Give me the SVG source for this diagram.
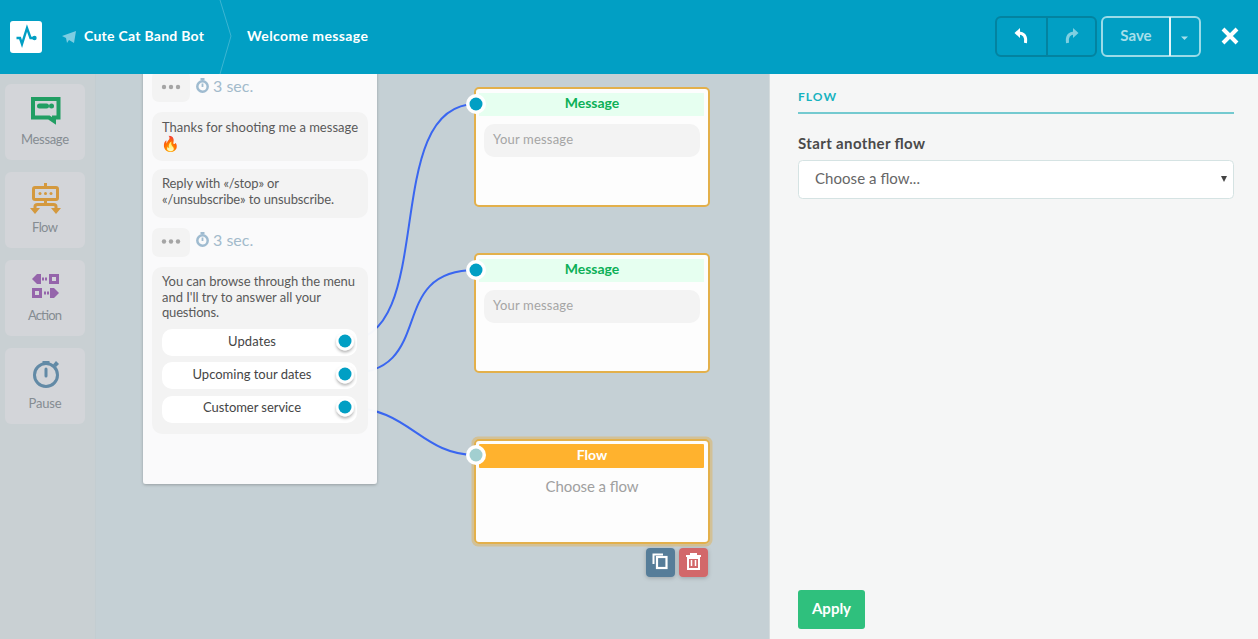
<svg xmlns="http://www.w3.org/2000/svg" width="1258" height="639" viewBox="0 0 1258 639">
<style>
text{font-family:"Lato","Noto Sans","Liberation Sans",sans-serif}
.side{fill:#d3d5d9}
.sl{font-size:13px;fill:#858c92;text-anchor:middle}
.bub{fill:#f3f3f3}
.t{font-size:13px;fill:#5a5a5a}
.btn{fill:#fff}
.bt{font-size:13px;fill:#454545;text-anchor:middle}
.port{fill:#019fc4}
.sec{font-size:16px;fill:#a3bacb}
.dot{fill:#a5a5a5}
.node{fill:#fdfdfd;stroke:#e3b04b;stroke-width:2}
.mh{fill:#e6fff0}
.mt{font-size:14px;font-weight:700;fill:#0db057;text-anchor:middle}
.ym{font-size:13px;fill:#a5a5a5}
.conn{fill:none;stroke:#3a66f0;stroke-width:2}
.hw{font-size:14px;font-weight:700;fill:#fff}
</style>
<defs>
<filter id="sh" x="-50%" y="-50%" width="200%" height="200%"><feDropShadow dx="0" dy="1" stdDeviation="1.500" flood-color="#000" flood-opacity=".25"/></filter>
<filter id="sh3" x="-60%" y="-60%" width="220%" height="220%"><feDropShadow dx="0" dy="2" stdDeviation="1.500" flood-color="#000" flood-opacity=".3"/></filter>
<filter id="sh2" x="-20%" y="-20%" width="140%" height="140%"><feDropShadow dx="0" dy="1" stdDeviation="2" flood-color="#000" flood-opacity=".22"/></filter>
<g id="wa"><circle cx="0" cy="1.500" r="5.200" fill="none" stroke="#9fbbd0" stroke-width="2.500"/><rect x="-2" y="-7" width="4" height="2.200" fill="#9fbbd0"/><path d="M0 -1.500V2" stroke="#9fbbd0" stroke-width="1.800"/></g>
</defs>

<rect width="1258" height="639" fill="#c5d0d5"/>
<g id="sidebar">
<rect x="0" y="74" width="96" height="565" fill="#c9d0d3"/>
<rect x="95" y="74" width="1" height="565" fill="#c3cdd1"/>
<g id="tool-message"><rect class="side" x="5" y="84" width="80" height="76" rx="6"/>
<path d="M33 99H58.500V117.500H54V121L49 117.500H33Z" fill="none" stroke="#219e63" stroke-width="4"/><rect x="37" y="103.500" width="12" height="5" rx="2.500" fill="#219e63"/><circle cx="51.500" cy="106" r="2.500" fill="#219e63"/>
<text class="sl" x="45" y="144" textLength="48">Message</text></g>
<g id="tool-flow"><rect class="side" x="5" y="172" width="80" height="76" rx="6"/>
<g fill="none" stroke="#d4993e" stroke-width="3"><rect x="33.500" y="187.500" width="24" height="12" rx="1.500"/><path d="M45.500 183V187M45.500 200V204M35 208V206.500Q35 204.500 37.500 204.500H53.500Q56 204.500 56 206.500V208"/></g>
<path d="M30 208H40L35 214ZM51 208H61L56 214Z" fill="#d4993e"/><g fill="#d4993e"><circle cx="40" cy="193.500" r="1.500"/><circle cx="45.500" cy="193.500" r="1.500"/><circle cx="51" cy="193.500" r="1.500"/></g>
<text class="sl" x="45" y="232" textLength="26">Flow</text></g>
<g id="tool-action"><rect class="side" x="5" y="260" width="80" height="76" rx="6"/>
<g fill="#9565ab"><path d="M32 279L37 274H41V284H37Z"/><path d="M42 277.500h2v3h-2zM45 277.500h2v3h-2z"/><path fill-rule="evenodd" d="M49 274H59V284H49ZM52 277V281H56V277Z"/><path fill-rule="evenodd" d="M32 288H42V298H32ZM35 291V295H39V291Z"/><path d="M44 291.500h2v3h-2zM47 291.500h2v3h-2z"/><path d="M50 288H54L59 293L54 298H50Z"/></g>
<text class="sl" x="45" y="320" textLength="34">Action</text></g>
<g id="tool-pause"><rect class="side" x="5" y="348" width="80" height="76" rx="6"/>
<circle cx="46" cy="375" r="11.500" fill="none" stroke="#628aa6" stroke-width="3"/><rect x="42.500" y="361" width="7" height="2.500" fill="#628aa6"/><path d="M53 364.500L56 361L59 364L56 367Z" fill="#628aa6"/><path d="M46 369V376" stroke="#628aa6" stroke-width="3" stroke-linecap="round"/>
<text class="sl" x="45" y="408" textLength="33">Pause</text></g>
</g>

<g id="connectors">
<path class="conn" d="M345 341C440 341 378 104 476 104"/>
<path class="conn" d="M345 374C440 374 383 270 476 270"/>
<path class="conn" d="M345 407C410 407 420 455 476 455"/>
</g>

<g id="chat-card">
<rect x="143" y="60" width="234" height="424" rx="3" fill="#fdfdfd" fill-opacity=".96" filter="url(#sh)"/>
<rect class="bub" x="152" y="70" width="38" height="32" rx="7"/>
<g class="dot"><circle cx="164" cy="87" r="2.200"/><circle cx="171" cy="87" r="2.200"/><circle cx="178" cy="87" r="2.200"/></g>
<use href="#wa" x="202.500" y="85"/><text class="sec" x="213" y="91.500">3 sec.</text>
<rect class="bub" x="152" y="112" width="216" height="49" rx="10"/>
<text class="t" x="162" y="132" textLength="196">Thanks for shooting me a message</text>
<text x="161" y="149" font-size="15" style="font-family:'Noto Color Emoji','Noto Sans',sans-serif">🔥</text>
<rect class="bub" x="152" y="169" width="216" height="49" rx="10"/>
<text class="t" x="162" y="188" textLength="117">Reply with «/stop» or</text>
<text class="t" x="162" y="204" textLength="172">«/unsubscribe» to unsubscribe.</text>
<rect class="bub" x="152" y="228" width="38" height="29" rx="7"/>
<g class="dot"><circle cx="164" cy="241.500" r="2.200"/><circle cx="171" cy="241.500" r="2.200"/><circle cx="178" cy="241.500" r="2.200"/></g>
<use href="#wa" x="202.500" y="239"/><text class="sec" x="213" y="245.500">3 sec.</text>
<rect class="bub" x="152" y="267" width="216" height="167" rx="10"/>
<text class="t" x="162" y="286" textLength="193">You can browse through the menu</text>
<text class="t" x="162" y="302" textLength="159">and I'll try to answer all your</text>
<text class="t" x="162" y="317" textLength="57">questions.</text>
<g id="btn-updates"><rect class="btn" x="162" y="329" width="195" height="27" rx="10"/><text class="bt" x="252" y="346" textLength="48">Updates</text><circle cx="345" cy="341.500" r="9" fill="#fff" filter="url(#sh3)"/><circle class="port" cx="345" cy="341" r="6.500"/></g>
<g id="btn-tour"><rect class="btn" x="162" y="362" width="195" height="27" rx="10"/><text class="bt" x="252" y="379" textLength="119">Upcoming tour dates</text><circle cx="345" cy="374.500" r="9" fill="#fff" filter="url(#sh3)"/><circle class="port" cx="345" cy="374" r="6.500"/></g>
<g id="btn-service"><rect class="btn" x="162" y="396" width="195" height="27" rx="10"/><text class="bt" x="252" y="412" textLength="98">Customer service</text><circle cx="345" cy="407.500" r="9" fill="#fff" filter="url(#sh3)"/><circle class="port" cx="345" cy="407" r="6.500"/></g>
</g>

<g id="node-message-1">
<rect class="node" x="475" y="88" width="234" height="118" rx="4"/>
<rect class="mh" x="479" y="93" width="225" height="23"/>
<text class="mt" x="592" y="108">Message</text>
<rect class="bub" x="484" y="124" width="216" height="33" rx="10"/>
<text class="ym" x="493" y="144" textLength="80">Your message</text>
<circle cx="476" cy="104" r="10" fill="#fff"/><circle class="port" cx="476" cy="104" r="6.500"/>
</g>
<g id="node-message-2">
<rect class="node" x="475" y="254" width="234" height="118" rx="4"/>
<rect class="mh" x="479" y="259" width="225" height="23"/>
<text class="mt" x="592" y="274">Message</text>
<rect class="bub" x="484" y="290" width="216" height="33" rx="10"/>
<text class="ym" x="493" y="310" textLength="80">Your message</text>
<circle cx="476" cy="270" r="10" fill="#fff"/><circle class="port" cx="476" cy="270" r="6.500"/>
</g>
<g id="node-flow">
<rect x="473" y="438" width="238" height="107" rx="5" fill="none" stroke="#e3b04b" stroke-opacity=".45" stroke-width="3"/>
<rect class="node" x="475" y="440" width="234" height="103" rx="4"/>
<rect x="479" y="444" width="225" height="24" rx="1" fill="#ffb22e"/>
<text x="592" y="460" font-size="14" font-weight="700" fill="#fff" text-anchor="middle">Flow</text>
<text x="592" y="492" font-size="15" fill="#a0a0a0" text-anchor="middle" textLength="93">Choose a flow</text>
<circle cx="476" cy="455" r="10" fill="#fff"/><circle cx="476" cy="455" r="6.500" fill="#a2cfd0"/>
<g id="copy-btn"><rect x="646" y="548" width="29" height="29" rx="4" fill="#567d99" filter="url(#sh2)"/><path d="M653.500 564V554.500H663" fill="none" stroke="#fff" stroke-width="2"/><rect x="657" y="557" width="9.500" height="11" fill="none" stroke="#fff" stroke-width="2.200"/></g>
<g id="delete-btn"><rect x="679" y="548" width="29" height="29" rx="4" fill="#d2686a" filter="url(#sh2)"/><path d="M686 556H701" stroke="#fff" stroke-width="2"/><rect x="690" y="553" width="7" height="2" fill="#fff"/><rect x="688" y="558" width="11" height="11" fill="none" stroke="#fff" stroke-width="2"/><path d="M691.500 560V566M695.500 560V566" stroke="#fff" stroke-width="1.500"/></g>
</g>

<g id="panel">
<rect x="770" y="74" width="488" height="565" fill="#f5f6f6"/>
<rect x="769" y="74" width="1" height="565" fill="#d5dcde"/>
<text x="798" y="101" font-size="12" font-weight="700" fill="#17b3c0" textLength="38">FLOW</text>
<rect x="798" y="112" width="436" height="2" fill="#74cad0"/>
<text x="798" y="149" font-size="15" font-weight="700" fill="#4a4a4a" textLength="127">Start another flow</text>
<rect x="798.500" y="160.500" width="435" height="38" rx="4" fill="#fff" stroke="#d5e3e3"/>
<text x="815" y="184" font-size="15" fill="#666" textLength="105">Choose a flow...</text>
<path d="M1221 176H1227L1224 182Z" fill="#444"/>
<rect x="798" y="590" width="67" height="39" rx="3" fill="#2fc07d"/>
<text x="831.500" y="614" font-size="15" font-weight="700" fill="#fff" text-anchor="middle">Apply</text>
</g>

<g id="header">
<rect width="1258" height="74" fill="#019fc4"/>
<path d="M220 0L231 36L220 74" fill="none" stroke="#3cb5d2" stroke-width="1"/>
<rect x="10" y="21" width="32" height="32" rx="3" fill="#fff"/>
<path d="M16.500 38H20L22 44L27 28L30.500 38H35" fill="none" stroke="#019fc4" stroke-width="2.400"/><circle cx="34.500" cy="38" r="2.200" fill="#019fc4"/>
<path d="M62 36L76 31L74 43L69 40L67 43L66 38Z" fill="#7dcde2"/>
<text class="hw" x="84" y="41" textLength="120">Cute Cat Band Bot</text>
<text class="hw" x="247" y="41" textLength="121">Welcome message</text>
<rect x="996" y="17" width="100" height="39" rx="5" fill="none" stroke="#0383a0" stroke-width="2"/>
<path d="M1047 17V56" stroke="#0383a0" stroke-width="2"/>
<path d="M1025.500 43Q1027 33 1018 33" fill="none" stroke="#fff" stroke-width="3"/><path d="M1020 28L1014.500 33L1020 38Z" fill="#fff"/>
<path d="M1067.500 43Q1066 33 1075 33" fill="none" stroke="#7fcfe1" stroke-width="3"/><path d="M1073 28L1078.500 33L1073 38Z" fill="#7fcfe1"/>
<rect x="1102" y="17" width="98" height="39" rx="5" fill="none" stroke="#9adbe8" stroke-width="2"/>
<path d="M1170 17V56" stroke="#e3f5f9" stroke-width="2"/>
<text x="1136" y="41" font-size="15" font-weight="700" fill="#a6dfea" text-anchor="middle">Save</text>
<path d="M1181 36.500H1188L1184.500 40Z" fill="#a6dfea"/>
<path d="M1223 29L1237 43M1237 29L1223 43" stroke="#fff" stroke-width="4"/>
</g>
</svg>
